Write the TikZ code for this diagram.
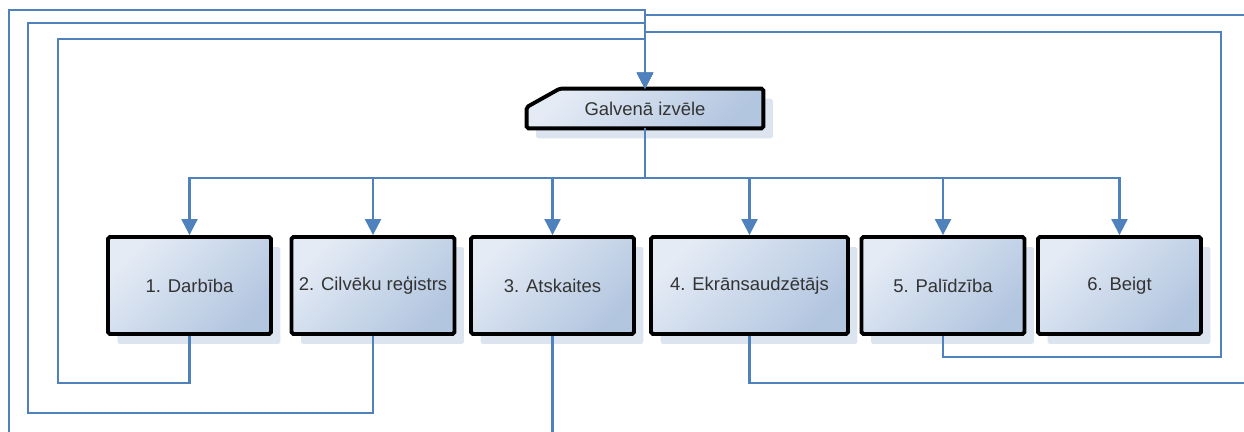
\documentclass[tikz,border=0pt]{standalone}
\usepackage{fontspec}
\setmainfont{Liberation Sans}
\usetikzlibrary{arrows.meta,shadows,backgrounds}
\definecolor{linkblue}{HTML}{4F81BD}
\definecolor{gradlight}{HTML}{E4EBF5}
\definecolor{graddark}{HTML}{B3C6E0}
\definecolor{shadowblue}{HTML}{DCE4F0}
\definecolor{textgray}{HTML}{333333}

\begin{document}
\begin{tikzpicture}[x=0.02cm, y=-0.02cm,
  every node/.style={font=\fontsize{10.5}{12}\selectfont, text=textgray},
  boxlook/.style={draw=black, line width=2.2pt, rounded corners=1pt,
    top color=gradlight, bottom color=graddark, shading angle=45,
    drop shadow={shadow xshift=0.19cm, shadow yshift=-0.2cm, fill=shadowblue, opacity=1}},
  menubox/.style={boxlook, minimum width=3.26cm, minimum height=1.94cm},
  link/.style={draw=linkblue, line width=1.2pt},
  tip/.style={-{Triangle[width=0.32cm, length=0.32cm]}}]
\useasboundingbox (0,0) rectangle (1244,432);
\clip (0,0) rectangle (1244,432);

% Boxes
\node[minimum width=4.72cm, minimum height=0.78cm] (main) at (645,108.5) {Galvenā izvēle};
\begin{scope}[on background layer]
  \path[boxlook] ([xshift=0.66cm]main.north west) -- (main.north east)
    -- (main.south east) -- (main.south west)
    -- ([yshift=-0.37cm]main.north west) -- cycle;
\end{scope}
\node[menubox] (darbiba) at (189.5,285.5) {1. Darbība};
\node[menubox] (registrs) at (373,285.5) {2. Cilvēku reģistrs};
\node[menubox] (atskaites) at (552.5,285.5) {3. Atskaites};
\node[menubox, minimum width=3.94cm] (ekrans) at (749.5,285.5) {4. Ekrānsaudzētājs};
\node[menubox] (palidziba) at (943,285.5) {5. Palīdzība};
\node[menubox] (beigt) at (1119.5,285.5) {6. Beigt};
\coordinate (bus) at (645,178);

% Arrows
\foreach \b in {darbiba,registrs,atskaites,ekrans,palidziba,beigt}
  \draw[link, tip] (main.south) -- (bus) -| (\b.north);

% Back to main menu
\draw[link, tip] (darbiba.south) |- (58,383) |- (645,39) -- (main.north);
\draw[link, tip] (registrs.south) |- (28,413) |- (645,23) -- (main.north);
\draw[link, tip] (atskaites.south) |- (9,450) |- (645,10) -- (main.north);
\draw[link, tip] (ekrans.south) |- (1260,383) |- (645,15) -- (main.north);
\draw[link, tip] (palidziba.south) |- (1221,357) |- (645,32) -- (main.north);
\end{tikzpicture}
\end{document}
